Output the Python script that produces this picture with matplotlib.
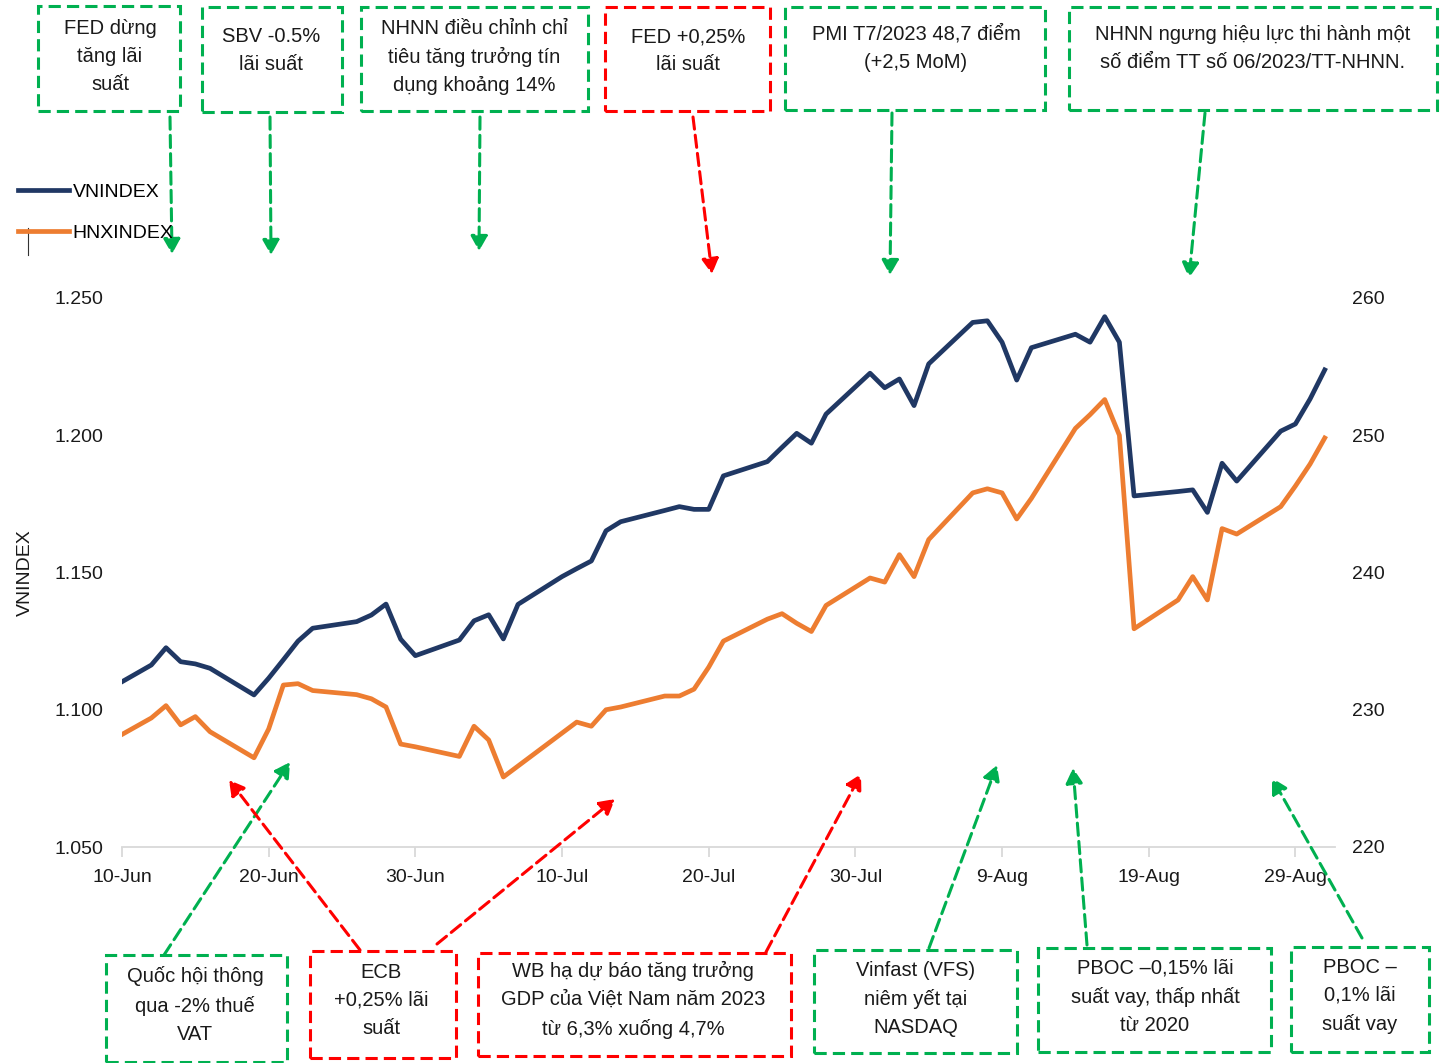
import datetime as dt

import matplotlib

matplotlib.use("Agg")
import matplotlib.dates as mdates
import matplotlib.pyplot as plt
from matplotlib.lines import Line2D
from matplotlib.patches import FancyArrowPatch, Rectangle
from matplotlib.ticker import FuncFormatter

plt.rcParams["font.family"] = ["Liberation Sans", "DejaVu Sans"]
plt.rcParams["font.size"] = 14

# trading days
dates = [
    "2023-06-10", "2023-06-12", "2023-06-13", "2023-06-14", "2023-06-15", "2023-06-16",
    "2023-06-19", "2023-06-20", "2023-06-21", "2023-06-22", "2023-06-23",
    "2023-06-26", "2023-06-27", "2023-06-28", "2023-06-29", "2023-06-30",
    "2023-07-03", "2023-07-04", "2023-07-05", "2023-07-06", "2023-07-07",
    "2023-07-10", "2023-07-11", "2023-07-12", "2023-07-13", "2023-07-14",
    "2023-07-17", "2023-07-18", "2023-07-19", "2023-07-20", "2023-07-21",
    "2023-07-24", "2023-07-25", "2023-07-26", "2023-07-27", "2023-07-28",
    "2023-07-31", "2023-08-01", "2023-08-02", "2023-08-03", "2023-08-04",
    "2023-08-07", "2023-08-08", "2023-08-09", "2023-08-10", "2023-08-11",
    "2023-08-14", "2023-08-15", "2023-08-16", "2023-08-17", "2023-08-18",
    "2023-08-21", "2023-08-22", "2023-08-23", "2023-08-24", "2023-08-25",
    "2023-08-28", "2023-08-29", "2023-08-30", "2023-08-31",
]

vnindex = [
    1110.2, 1116.3, 1122.6, 1117.5, 1116.7, 1115.1,
    1105.4, 1111.5, 1118.2, 1125.0, 1129.7,
    1132.1, 1134.5, 1138.5, 1125.7, 1119.7,
    1125.4, 1132.4, 1134.6, 1125.8, 1138.4,
    1148.5, 1151.4, 1154.2, 1165.2, 1168.5,
    1172.6, 1174.0, 1173.0, 1173.0, 1185.2,
    1190.4, 1195.6, 1200.7, 1197.1, 1207.7,
    1222.6, 1217.3, 1220.5, 1210.8, 1226.0,
    1241.1, 1241.7, 1233.9, 1220.1, 1231.9,
    1236.8, 1233.9, 1243.2, 1233.9, 1177.9,
    1179.5, 1180.1, 1171.9, 1189.8, 1183.3,
    1201.5, 1204.1, 1213.2, 1223.8,
]

hnxindex = [
    228.2, 229.4, 230.3, 228.9, 229.5, 228.4,
    226.5, 228.6, 231.8, 231.9, 231.4,
    231.1, 230.8, 230.2, 227.5, 227.3,
    226.6, 228.8, 227.8, 225.1, 225.9,
    228.3, 229.1, 228.8, 230.0, 230.2,
    231.0, 231.0, 231.5, 233.1, 235.0,
    236.6, 237.0, 236.3, 235.7, 237.6,
    239.6, 239.3, 241.3, 239.7, 242.4,
    245.8, 246.1, 245.8, 243.9, 245.4,
    250.5, 251.5, 252.6, 250.0, 235.9,
    238.0, 239.7, 238.0, 243.2, 242.8,
    244.8, 246.3, 247.9, 249.8,
]

vn_ticks = [1050, 1100, 1150, 1200, 1250]
hnx_ticks = [220, 230, 240, 250, 260]

GREEN = "#00B050"
RED = "#FF0000"

# event boxes: text, box (x0, y0, x1, y1) in px, text centre, colour, arrows [(from, to)]
events = [
    ("FED dừng\ntăng lãi\nsuất", (38, 6, 180, 111), (110, 56), GREEN,
     [((170, 117), (172, 254))]),
    ("SBV -0.5%\nlãi suất", (202, 7, 342, 112), (271, 51), GREEN,
     [((270, 117), (271, 255))]),
    ("NHNN điều chỉnh chỉ\ntiêu tăng trưởng tín\ndụng khoảng 14%", (361, 7, 588, 111), (474, 57), GREEN,
     [((480, 117), (479, 251))]),
    ("FED +0,25%\nlãi suất", (605, 7, 770, 111), (688, 51), RED,
     [((693, 117), (712, 274))]),
    ("PMI T7/2023 48,7 điểm\n(+2,5 MoM)", (785, 7, 1045, 110), (916, 48), GREEN,
     [((892, 113), (890, 275))]),
    ("NHNN ngưng hiệu lực thi hành một\nsố điểm TT số 06/2023/TT-NHNN.", (1069, 7, 1437, 110), (1253, 48), GREEN,
     [((1205, 113), (1189, 278))]),
    ("Quốc hội thông\nqua -2% thuế\nVAT", (106, 955, 287, 1062), (195, 1005), GREEN,
     [((164, 955), (290, 762))]),
    ("ECB\n+0,25% lãi\nsuất", (310, 951, 456, 1058), (381, 1000), RED,
     [((360, 950), (229, 780)), ((437, 944), (615, 799))]),
    ("WB hạ dự báo tăng trưởng\nGDP của Việt Nam năm 2023\ntừ 6,3% xuống 4,7%", (478, 953, 791, 1056), (633, 1000), RED,
     [((766, 952), (861, 774))]),
    ("Vinfast (VFS)\nniêm yết tại\nNASDAQ", (814, 950, 1017, 1053), (916, 999), GREEN,
     [((929, 948), (997, 765))]),
    ("PBOC –0,15% lãi\nsuất vay, thấp nhất\ntừ 2020", (1038, 948, 1271, 1052), (1155, 997), GREEN,
     [((1087, 945), (1073, 768))]),
    ("PBOC –\n0,1% lãi\nsuất vay", (1291, 947, 1429, 1052), (1360, 996), GREEN,
     [((1362, 938), (1272, 778))]),
]

W, H = 1448, 1063


def fp(x, y):
    return (x / W, 1 - y / H)


x = [dt.datetime.fromisoformat(d) for d in dates]
start = dt.datetime(2023, 6, 10)

fig = plt.figure(figsize=(W / 100, H / 100), dpi=100)
ax = fig.add_axes([122 / W, 1 - 847 / H, (1335 - 122) / W, (847 - 298) / H])
ax2 = ax.twinx()

(l1,) = ax.plot(x, vnindex, color="#203864", lw=3.4, solid_joinstyle="round", label="VNINDEX")
(l2,) = ax2.plot(x, hnxindex, color="#ED7D31", lw=3.4, solid_joinstyle="round", label="HNXINDEX")

x0 = mdates.date2num(start)
ax.set_xlim(x0, x0 + 82.7)
ax.set_ylim(1050, 1250)
ax2.set_ylim(220, 260)
ax.set_yticks(vn_ticks)
ax2.set_yticks(hnx_ticks)
ax.yaxis.set_major_formatter(FuncFormatter(lambda v, p: f"{v:,.0f}".replace(",", ".")))
ax.set_xticks([start + dt.timedelta(days=10 * k) for k in range(9)])
ax.xaxis.set_major_formatter(FuncFormatter(lambda v, p: f"{mdates.num2date(v).day}-{mdates.num2date(v):%b}"))

for a in (ax, ax2):
    for s in a.spines.values():
        s.set_visible(False)
    a.tick_params(axis="y", length=0, labelsize=14, colors="#1a1a1a")
ax.tick_params(axis="y", pad=13.5)
ax2.tick_params(axis="y", pad=12)
ax.spines["bottom"].set_visible(True)
ax.spines["bottom"].set_color("#d9d9d9")
ax.spines["bottom"].set_linewidth(1.3)
ax.tick_params(axis="x", length=7, width=1.3, color="#d9d9d9", labelsize=14, labelcolor="#1a1a1a", pad=9)

ax.set_ylabel("VNINDEX", fontsize=14, color="#1a1a1a")
ax.yaxis.set_label_coords(-0.073, 0.5)

fig.legend([l1, l2], ["VNINDEX", "HNXINDEX"], loc="upper left", bbox_to_anchor=fp(18, 183),
           frameon=False, handlelength=2.6, handletextpad=0.2, labelspacing=1.2,
           borderpad=0, borderaxespad=0, fontsize=14)
fig.add_artist(Line2D([28 / W, 28 / W], [1 - 228 / H, 1 - 255 / H], color="#333333", lw=0.8))

for text, (bx0, by0, bx1, by1), (tx, ty), col, arrows in events:
    fig.add_artist(Rectangle(fp(bx0, by1), (bx1 - bx0) / W, (by1 - by0) / H,
                             transform=fig.transFigure, fill=False, edgecolor=col,
                             lw=2.2, linestyle=(0, (4, 2))))
    fig.text(*fp(tx, ty), text, ha="center", va="center", fontsize=14.5,
             color="#1a1a1a", linespacing=1.6)
    for a0, a1 in arrows:
        fig.add_artist(FancyArrowPatch(fp(*a0), fp(*a1), transform=fig.transFigure,
                                       arrowstyle="-|>,head_length=0.5,head_width=0.28",
                                       mutation_scale=18, color=col, lw=2.2,
                                       linestyle=(0, (4, 2)), shrinkA=0, shrinkB=0))

fig.savefig("out.png", dpi=100)
